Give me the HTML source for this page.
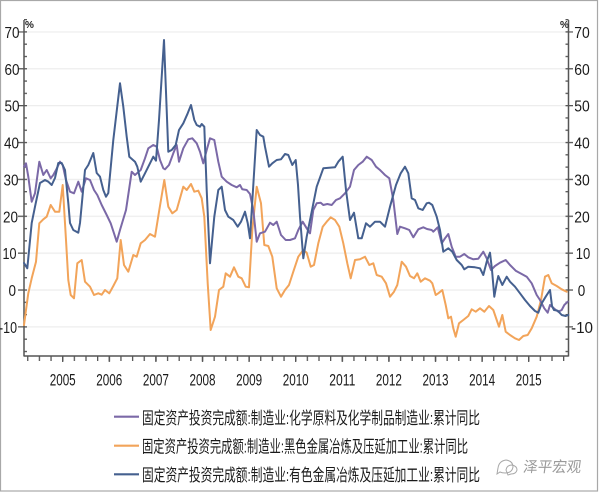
<!DOCTYPE html>
<html><head><meta charset="utf-8"><style>
html,body{margin:0;padding:0;background:#fff;}
svg{display:block;}
</style></head><body>
<svg width="600" height="492" viewBox="0 0 600 492" xmlns="http://www.w3.org/2000/svg">
<defs>
<pattern id="grid" patternUnits="userSpaceOnUse" x="0" y="31.3" width="600" height="36.875"><rect x="0" y="0" width="600" height="1.2" fill="#ececec"/></pattern>
<pattern id="major" patternUnits="userSpaceOnUse" x="0" y="31.25" width="600" height="36.875"><rect x="0" y="0" width="600" height="1.3" fill="#555"/></pattern>
<pattern id="minor" patternUnits="userSpaceOnUse" x="0" y="31.25" width="600" height="12.2917"><rect x="0" y="0" width="600" height="1.3" fill="#555"/></pattern>
<pattern id="xt" patternUnits="userSpaceOnUse" x="62.05" y="0" width="11.65" height="600"><rect x="0" y="0" width="1.3" height="600" fill="#555"/></pattern>
<pattern id="yt" patternUnits="userSpaceOnUse" x="62.05" y="0" width="46.6" height="600"><rect x="0" y="0" width="1.3" height="600" fill="#555"/></pattern>
</defs>
<rect x="0" y="0" width="600" height="492" fill="#fff"/>
<rect x="0.5" y="0.5" width="597" height="490.5" fill="none" stroke="#a8a8a8" stroke-width="1.2"/>
<rect x="25" y="31.3" width="543" height="296.5" fill="url(#grid)"/>
<rect x="18" y="31.25" width="6" height="296.5" fill="url(#major)"/>
<rect x="568.5" y="31.25" width="4.5" height="296.5" fill="url(#major)"/>
<rect x="24" y="19" width="3" height="334" fill="url(#minor)"/>
<rect x="565.5" y="19" width="3" height="334" fill="url(#minor)"/>
<rect x="27" y="356" width="538" height="5" fill="url(#xt)"/>
<rect x="27" y="356" width="538" height="6" fill="url(#yt)"/>
<g stroke="#555" stroke-width="1.5" fill="none">
<line x1="24" y1="20" x2="24" y2="356.5"/>
<line x1="568.5" y1="20" x2="568.5" y2="356.5"/>
<line x1="24" y1="356" x2="568.5" y2="356"/>
</g>
<g font-family="Liberation Sans, sans-serif" font-size="16" fill="#1a1a1a" text-anchor="end">
<text x="19.5" y="38" textLength="15" lengthAdjust="spacingAndGlyphs">70</text>
<text x="19.5" y="74.8" textLength="15" lengthAdjust="spacingAndGlyphs">60</text>
<text x="19.5" y="111.6" textLength="15" lengthAdjust="spacingAndGlyphs">50</text>
<text x="19" y="148.5" textLength="15" lengthAdjust="spacingAndGlyphs">40</text>
<text x="18.5" y="185.4" textLength="15" lengthAdjust="spacingAndGlyphs">30</text>
<text x="18" y="222.3" textLength="15" lengthAdjust="spacingAndGlyphs">20</text>
<text x="16.5" y="259.1" textLength="14" lengthAdjust="spacingAndGlyphs">10</text>
<text x="16" y="296" textLength="7.5" lengthAdjust="spacingAndGlyphs">0</text>
<text x="17" y="332.9" textLength="18" lengthAdjust="spacingAndGlyphs">-10</text>
</g>
<g font-family="Liberation Sans, sans-serif" font-size="16" fill="#1a1a1a" text-anchor="middle">
<text x="582" y="38" textLength="15.5" lengthAdjust="spacingAndGlyphs">70</text>
<text x="582" y="74.8" textLength="15.5" lengthAdjust="spacingAndGlyphs">60</text>
<text x="582" y="111.6" textLength="15.5" lengthAdjust="spacingAndGlyphs">50</text>
<text x="582" y="148.5" textLength="15.5" lengthAdjust="spacingAndGlyphs">40</text>
<text x="582" y="185.4" textLength="15.5" lengthAdjust="spacingAndGlyphs">30</text>
<text x="582" y="222.3" textLength="15.5" lengthAdjust="spacingAndGlyphs">20</text>
<text x="583" y="259.1" textLength="14.5" lengthAdjust="spacingAndGlyphs">10</text>
<text x="581.5" y="296" textLength="7.5" lengthAdjust="spacingAndGlyphs">0</text>
<text x="582" y="332.9" textLength="22" lengthAdjust="spacingAndGlyphs">-10</text>
</g>
<g font-family="Liberation Sans, sans-serif" font-size="10" font-weight="bold" fill="#222">
<text x="25" y="28">%</text>
<text x="560" y="28">%</text>
</g>
<g font-family="Liberation Sans, sans-serif" font-size="17" fill="#1a1a1a" text-anchor="middle">
<text x="62.7" y="385.5" textLength="26" lengthAdjust="spacingAndGlyphs">2005</text>
<text x="109.3" y="385.5" textLength="26" lengthAdjust="spacingAndGlyphs">2006</text>
<text x="155.9" y="385.5" textLength="26" lengthAdjust="spacingAndGlyphs">2007</text>
<text x="202.5" y="385.5" textLength="26" lengthAdjust="spacingAndGlyphs">2008</text>
<text x="249.1" y="385.5" textLength="26" lengthAdjust="spacingAndGlyphs">2009</text>
<text x="295.7" y="385.5" textLength="26" lengthAdjust="spacingAndGlyphs">2010</text>
<text x="342.3" y="385.5" textLength="26" lengthAdjust="spacingAndGlyphs">2011</text>
<text x="388.9" y="385.5" textLength="26" lengthAdjust="spacingAndGlyphs">2012</text>
<text x="435.5" y="385.5" textLength="26" lengthAdjust="spacingAndGlyphs">2013</text>
<text x="482.1" y="385.5" textLength="26" lengthAdjust="spacingAndGlyphs">2014</text>
<text x="528.7" y="385.5" textLength="26" lengthAdjust="spacingAndGlyphs">2015</text>
</g>
<g fill="none" stroke-width="2" stroke-linejoin="round" stroke-linecap="round">
<polyline stroke="#f2a45a" points="24,325 26,310 28.3,293.3 31.7,278.3 36,261.7 39.3,223.3 43.3,219.3 46.7,216.7 50.7,205 55,211.7 59.3,211.7 62.7,185 66,240 68.3,280 70.7,295 74,298.3 77.3,263.3 81.7,260 85,281.7 90,286.7 94,295 98.3,293.3 101.7,294.7 105,290 109.3,293.3 113.3,286 117.3,278.3 120.7,240 124,265 128.3,271.7 133.3,255 136.7,256.7 140.7,243.3 145,240 150,234 155,236.7 159.3,210 164.3,180 168.3,206.7 172.3,213.3 176.7,210 180,198.3 183.3,186.7 186.7,190 191,184 194.3,191.7 198.3,190.7 201.7,198.3 204.3,216.7 207.7,283.3 210.7,330 215,316.7 219,290 223.3,286.7 225.7,273.3 230,276.7 234,267.3 238.3,276.7 241.7,278.3 245.7,286.7 249,287.3 252.3,230 256.7,186.7 261,203.3 264.3,245 268.3,246 272.3,256.7 276.7,288.3 281,296.7 285,290 289,285 293.3,271.7 298.3,256.7 303.3,250 306.7,252.7 310.7,266.7 314,265 318.3,243.3 322.7,226.7 326.7,221.7 330.7,217.3 335,220 339.3,226.7 343.3,243.3 347.3,263.3 350.7,278.3 355,260 360,259.3 365,256.7 369.3,265 373.3,263.3 376.7,275 381.7,276.7 386,283.3 390,296.7 394,291.7 397.3,285 401.7,261.7 406,266.7 410,276 414,278.3 417.3,273.3 420.7,281.7 425,278.3 430,280.7 432.3,283.3 435.7,295 438.3,293.3 442.3,290 445.7,305 448.3,318.3 451,316.7 453.3,328.3 455.7,336.7 459,323.3 463.3,320 468.3,316 471.7,309.3 475.7,311.7 480,308.3 484.3,311.7 489,306 493.3,310 496.7,320 499,326.7 502.3,315 505.7,331.7 510,335 515,338.3 519,340 523.3,336 527.7,335 531.7,328.3 536.7,316.7 541,300 545,276.7 548.3,275 551.7,283.3 556.7,286 561.7,289.3 566.7,291.7"/>
<polyline stroke="#7b69a7" points="24,166.7 26,163.3 28.3,176.7 31.7,201.7 35,193.3 39.3,161.7 43.3,175 46.7,170 50.7,178.3 53.3,175 56,170 60,161.7 62.7,165 66,180 70,191.7 74,193.3 78.3,181.7 81.7,191.7 86,178.3 90,180 94,190 97.3,195 101.7,205 106.7,215 110.7,223.3 114,233.3 116.7,241.7 120,230 126,210 131.7,171.7 135,175 140.7,170 145,158.3 148.3,148.3 153.3,145 156.7,146.7 160,160 163.3,168.3 165,169.3 169,165 173.3,153.3 176.7,145 179,161.7 183.3,148.3 188.3,139.3 192.3,138.3 196.7,143.3 200,151.7 203.3,163.3 206.7,150 210,138.3 214.3,140 218.3,161.7 221.7,176.7 226.7,181.7 231.7,185 236.7,187.3 240,185 242.3,189.3 246.7,190 250,194 253.3,210 256.7,241.7 260,233.3 265,231.7 270,222.7 273.3,225 276.7,221.7 281,235 285.7,240 290,240 295,238.3 298.3,230 302.7,221.7 306.7,228.3 310,233.3 313.3,210 316.7,203.3 320.7,202.7 323.3,205 327.3,204 331.7,205 336,200 340,198.3 345,193.3 350,186.7 354,170 358.3,165 362.7,161.7 366.7,156.7 371.7,160 376,166.7 380,170 385,175 389.3,178.3 393.3,200 397.3,234 400,226.7 405,228.3 409.3,230 413.3,237.3 418.3,229.3 423.3,227.3 427,229 431.7,230 433.3,231.7 437.7,227.3 441.7,243.3 445,238.3 448.3,234 451.7,246.7 455.7,256.7 460,256.7 464.3,254 468.3,257.3 473.3,259.3 478.3,258.7 483.3,251.7 486.7,258.3 491,270 495,266 500,262.7 505.7,260 510,265 515.7,270.7 521.7,274 526.7,276.7 531.7,283.3 536.7,295 540,300 544.3,308.3 547.7,312.7 550,305 555,309.3 558.3,311.7 561.7,310 564.3,305 567.7,301.7"/>
<polyline stroke="#45608f" points="24,263 27.3,268.3 31.7,223 35,206.7 40,183 45,180 48.3,181.7 51.7,185 55,178 58.3,163 61.7,163 65,170 68.3,203 70,223 73.3,230 78.3,232.7 80,223 85,170 88.3,165 93.3,153 96.7,173 100,176.7 103.3,190 106,196.7 108.3,193 113.3,140 120,83.3 123.3,106.7 126.7,136.7 129.3,156.7 135,161.7 137.3,166.7 140.7,181.7 145,173.3 150,163.3 153.3,156.7 156,160.7 159,120 164,40 168.3,151.7 171.7,150 175.7,145 179,130 183.3,123.3 187.7,113.3 191,105 194.3,120 196.7,125 200,126.7 201.7,124 204.3,126.7 206.7,190 210,263.3 214.3,216.7 218.3,190 221.7,186.7 225,210 228.3,216.7 233.3,220 237.7,226.7 241,221.7 245,211.7 247.7,223 250,238.3 253,190 256.7,130 260,135 263.3,136.7 265,146.7 269,166.7 272.3,163.3 276.7,160 281,159.3 285,154 288.3,155 292.3,165 295.7,160 298,185 300,216.7 303.3,258.3 306.7,236.7 311.7,211.7 316.7,186.7 323.3,168.3 335,167.3 338.3,161.7 342.7,156.7 346,190 350,220 354,212.7 358.3,238.3 361.7,238.3 366,223.3 370,226.7 375,221.7 380,221.7 385,226.7 390,206.7 396,185 400.7,173.3 405,166.7 408.3,173.3 411.7,198.3 415,200 418.3,208.3 422.7,210 426.7,203.3 429,202.7 432.3,205 436.7,216.7 440,230 443.3,251.7 448.3,248.3 452.3,251.7 456.7,260 461.7,265 464.3,269.3 468.3,266.7 475,267.3 480,268.3 483.3,275 486.7,261.7 490,252.7 492,270 494.3,296.7 496.7,283.3 498.3,276 502.3,285 506.7,276.7 510,281.7 515,286.7 520,293.3 525,300 530,306 535,311 538.3,312.7 541.7,303.3 545.7,296.7 550,290 552,306 554,310 557.7,310.7 561.7,315 565.7,316 568.3,315"/>
</g>
<g stroke-width="2.2">
<line x1="114" y1="416.7" x2="139" y2="416.7" stroke="#7b69a7"/>
<line x1="114" y1="445.7" x2="139" y2="445.7" stroke="#f2a45a"/>
<line x1="114" y1="474.3" x2="139" y2="474.3" stroke="#45608f"/>
</g>
<g font-family="Liberation Sans, 'Noto Sans CJK SC', sans-serif" font-size="17" fill="#1a1a1a">
<text x="142" y="424" textLength="338" lengthAdjust="spacingAndGlyphs">固定资产投资完成额:制造业:化学原料及化学制品制造业:累计同比</text>
<text x="142" y="452.5" textLength="326" lengthAdjust="spacingAndGlyphs">固定资产投资完成额:制造业:黑色金属冶炼及压延加工业:累计同比</text>
<text x="142" y="481" textLength="338" lengthAdjust="spacingAndGlyphs">固定资产投资完成额:制造业:有色金属冶炼及压延加工业:累计同比</text>
</g>
<g fill="none" stroke="#a8a8a8" stroke-width="1">
<path d="M498,468 q1,-7 8,-8 q7,1 7,7 q-1,6 -8,6 q-3,0 -5,-1 l-3,2 z"/>
<path d="M506,470 q1,-5 6,-5 q5,1 5,5 q-1,4 -6,4 l-3,1 z"/>
</g>
<text x="523" y="472" font-family="Liberation Sans, 'Noto Sans CJK SC', sans-serif" font-size="15" fill="#9a9a9a" textLength="58" lengthAdjust="spacingAndGlyphs" transform="skewX(-8) translate(66,0)">泽平宏观</text>
</svg>
</body></html>
